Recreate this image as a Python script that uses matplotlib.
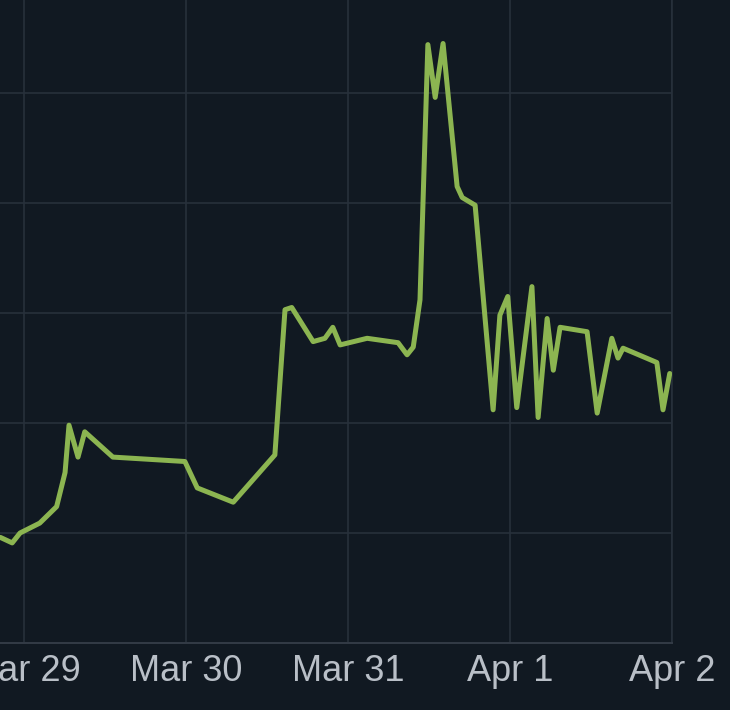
import matplotlib
matplotlib.use("Agg")
from matplotlib import pyplot as plt
from matplotlib import dates as mdates
from matplotlib.ticker import FuncFormatter, MultipleLocator
import pandas as pd

# sampled points of the green line (time, value in grid steps)
times = [
    "2024-03-28 20:30", "2024-03-28 22:15", "2024-03-28 23:25", "2024-03-29 02:20",
    "2024-03-29 04:50", "2024-03-29 06:05", "2024-03-29 06:40", "2024-03-29 08:00",
    "2024-03-29 09:00", "2024-03-29 13:10", "2024-03-29 23:50", "2024-03-30 01:40",
    "2024-03-30 07:00", "2024-03-30 13:10", "2024-03-30 14:40", "2024-03-30 15:40",
    "2024-03-30 18:50", "2024-03-30 20:35", "2024-03-30 21:45", "2024-03-30 22:50",
    "2024-03-31 02:50", "2024-03-31 07:25", "2024-03-31 08:45", "2024-03-31 09:40",
    "2024-03-31 10:40", "2024-03-31 11:50", "2024-03-31 12:55", "2024-03-31 14:05",
    "2024-03-31 16:10", "2024-03-31 16:55", "2024-03-31 18:50", "2024-03-31 21:30",
    "2024-03-31 22:30", "2024-03-31 23:40", "2024-04-01 01:00", "2024-04-01 03:15",
    "2024-04-01 04:10", "2024-04-01 05:30", "2024-04-01 06:25", "2024-04-01 07:25",
    "2024-04-01 11:25", "2024-04-01 12:55", "2024-04-01 15:05", "2024-04-01 16:00",
    "2024-04-01 16:45", "2024-04-01 21:45", "2024-04-01 22:40", "2024-04-01 23:40",
]
values = [
    0.96, 0.91, 1.00, 1.09,
    1.24, 1.55, 1.98, 1.69,
    1.92, 1.69, 1.65, 1.41,
    1.28, 1.71, 3.03, 3.05,
    2.74, 2.77, 2.87, 2.71,
    2.77, 2.73, 2.62, 2.69,
    3.12, 5.44, 4.96, 5.45,
    4.15, 4.05, 3.98, 2.12,
    2.98, 3.15, 2.14, 3.24,
    2.05, 2.95, 2.48, 2.87,
    2.83, 2.09, 2.77, 2.59,
    2.68, 2.55, 2.12, 2.45,
]

bg = "#111922"
grid_col = "#27303b"
line_col = "#8cb551"
text_col = "#b9bfc7"

fig = plt.figure(figsize=(7.3, 7.1), dpi=100)
fig.patch.set_facecolor(bg)
# plot area runs off the left and top of the picture
ax = fig.add_axes([0, 67 / 710, 672 / 730, 1 - 67 / 710])
ax.set_facecolor(bg)

ax.plot(pd.to_datetime(times), values, color=line_col, lw=3.6,
        solid_joinstyle="round", solid_capstyle="round", zorder=3)

start = pd.Timestamp("2024-03-29") - pd.Timedelta(hours=24 / 6.75)
ax.set_xlim(start, pd.Timestamp("2024-04-02"))
ax.set_ylim(0, 643 / 110)

ax.xaxis.set_major_locator(mdates.DayLocator())
ax.xaxis.set_major_formatter(FuncFormatter(
    lambda v, pos: f"{mdates.num2date(v):%b} {mdates.num2date(v).day}"))
ax.yaxis.set_major_locator(MultipleLocator(1))
ax.set_yticklabels([])

ax.grid(True, color=grid_col, lw=1.2)
ax.tick_params(axis="x", length=0, pad=8, labelsize=26, labelcolor=text_col)
ax.tick_params(axis="y", length=0)
for lbl in ax.get_xticklabels():
    lbl.set_fontfamily("Liberation Sans")
for s in ["top", "left"]:
    ax.spines[s].set_visible(False)
ax.spines["bottom"].set_color("#333b46")
ax.spines["bottom"].set_linewidth(1.4)
ax.spines["right"].set_color(grid_col)
ax.spines["right"].set_linewidth(1.2)

fig.savefig("out.png", dpi=100, facecolor=bg)
